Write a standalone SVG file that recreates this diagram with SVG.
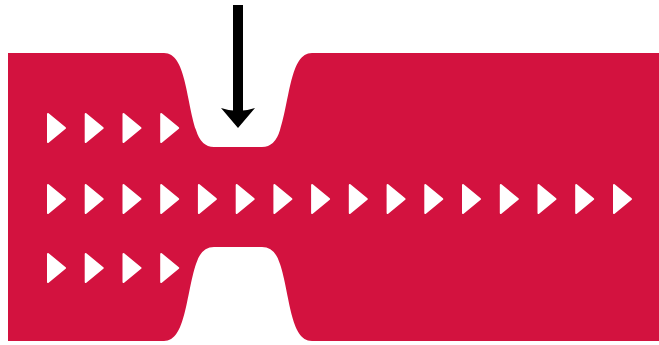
<svg xmlns="http://www.w3.org/2000/svg" xmlns:xlink="http://www.w3.org/1999/xlink" width="659" height="345" viewBox="0 0 659 345">
  <style>
    .body { fill: #D3123F; }
    .tri { fill: #FFFFFF; stroke: #FFFFFF; stroke-width: 2; stroke-linejoin: round; }
    .arrow { fill: #000000; }
  </style>
  <defs>
    <path id="t" d="M0,-14 L17,0 L0,14 Z"/>
  </defs>
  <rect width="659" height="345" fill="#FFFFFF"/>
  <g id="channel">
    <path class="body" d="M8,53 H164 C186,53 186,100 196,130 Q201,147 214,147 H262 Q275,147 280,130 C290,100 290,53 312,53 H659 V341 H312 C290,341 290,294 280,264 Q275,247 262,247 H214 Q201,247 196,264 C186,294 186,341 164,341 H8 Z"/>
  </g>
  <g id="flow">
    <g class="tri">
      <use xlink:href="#t" x="48" y="128"/>
      <use xlink:href="#t" x="85.7" y="128"/>
      <use xlink:href="#t" x="123.5" y="128"/>
      <use xlink:href="#t" x="161.2" y="128"/>

      <use xlink:href="#t" x="48" y="199"/>
      <use xlink:href="#t" x="85.7" y="199"/>
      <use xlink:href="#t" x="123.5" y="199"/>
      <use xlink:href="#t" x="161.2" y="199"/>
      <use xlink:href="#t" x="198.9" y="199"/>
      <use xlink:href="#t" x="236.7" y="199"/>
      <use xlink:href="#t" x="274.4" y="199"/>
      <use xlink:href="#t" x="312.1" y="199"/>
      <use xlink:href="#t" x="349.8" y="199"/>
      <use xlink:href="#t" x="387.6" y="199"/>
      <use xlink:href="#t" x="425.3" y="199"/>
      <use xlink:href="#t" x="463" y="199"/>
      <use xlink:href="#t" x="500.8" y="199"/>
      <use xlink:href="#t" x="538.5" y="199"/>
      <use xlink:href="#t" x="576.2" y="199"/>
      <use xlink:href="#t" x="614" y="199"/>

      <use xlink:href="#t" x="48" y="268"/>
      <use xlink:href="#t" x="85.7" y="268"/>
      <use xlink:href="#t" x="123.5" y="268"/>
      <use xlink:href="#t" x="161.2" y="268"/>
    </g>
  </g>
  <g id="connectors">
    <g id="force-arrow" class="arrow">
      <rect x="233" y="5" width="10" height="106"/>
      <path d="M221,108 Q238,114 255,108 L238,128 Z"/>
    </g>
  </g>
</svg>
